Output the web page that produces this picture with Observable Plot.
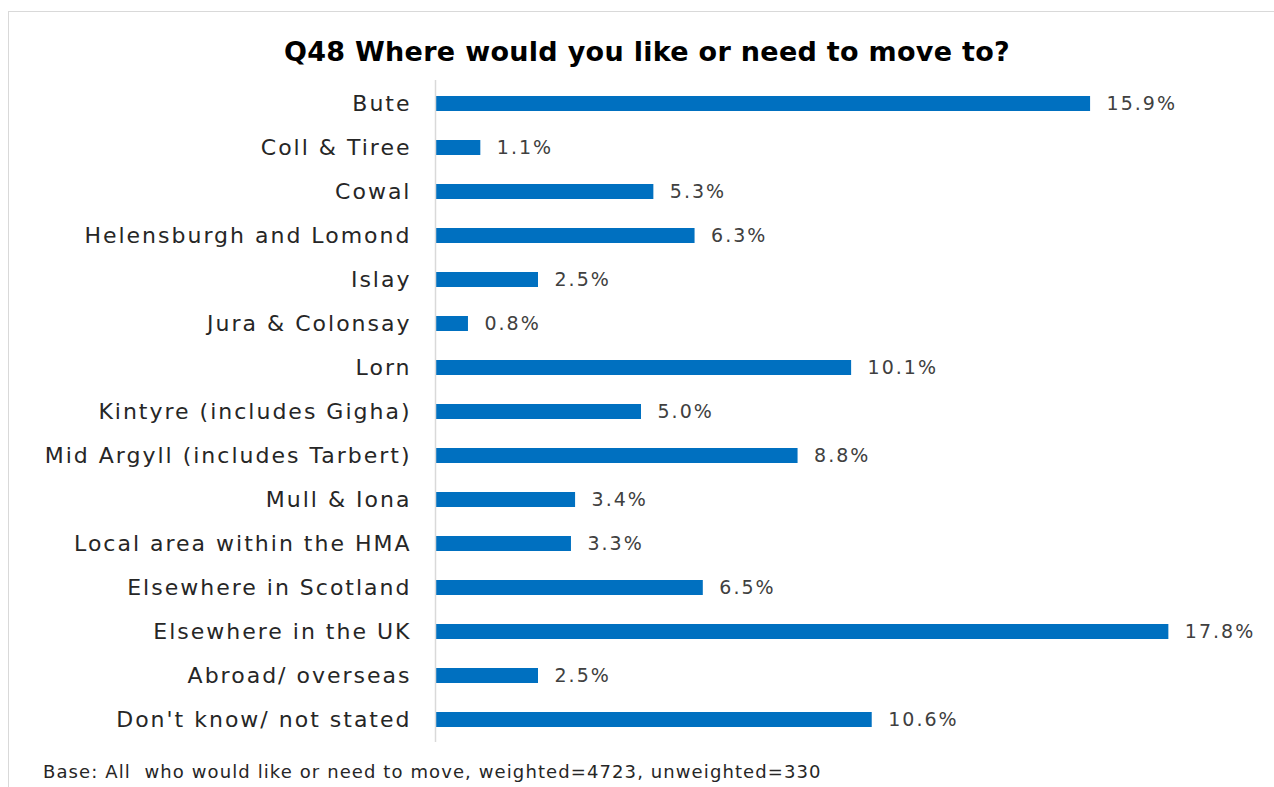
<!DOCTYPE html>
<html>
<head>
<meta charset="utf-8">
<script src="https://cdn.jsdelivr.net/npm/d3@7"></script>
<script src="https://cdn.jsdelivr.net/npm/@observablehq/plot@0.6"></script>
<style>
  html, body { margin: 0; padding: 0; background: #fff; }
  #wrap { position: relative; width: 1274px; height: 787px; overflow: hidden; }
  #frame { position: absolute; left: 8px; top: 11px; width: 1300px; height: 800px; border: 1px solid #d9d9d9; box-sizing: border-box; }
  #title { position: absolute; left: 0; top: 36px; width: 1294px; text-align: center; font-family: "DejaVu Sans", sans-serif; font-weight: bold; font-size: 27px; letter-spacing: 0.3px; color: #000; }
  #chart { position: absolute; left: 0; top: 0; }
  #caption { position: absolute; left: 43px; top: 761px; font-family: "DejaVu Sans", sans-serif; font-size: 18px; letter-spacing: 1.1px; color: #262626; white-space: pre; }
  #chart svg g[aria-label="y-axis tick label"] text { letter-spacing: 2px; }
  #chart svg g[aria-label="text"] text { letter-spacing: 2px; }
</style>
</head>
<body>
<div id="wrap">
  <div id="frame"></div>
  <div id="chart"></div>
  <div id="title">Q48 Where would you like or need to move to?</div>
  <div id="caption">Base: All  who would like or need to move, weighted=4723, unweighted=330</div>
</div>
<script>
const categories = [
  "Bute",
  "Coll & Tiree",
  "Cowal",
  "Helensburgh and Lomond",
  "Islay",
  "Jura & Colonsay",
  "Lorn",
  "Kintyre (includes Gigha)",
  "Mid Argyll (includes Tarbert)",
  "Mull & Iona",
  "Local area within the HMA",
  "Elsewhere in Scotland",
  "Elsewhere in the UK",
  "Abroad/ overseas",
  "Don't know/ not stated"
];
const values = [15.9, 1.1, 5.3, 6.3, 2.5, 0.8, 10.1, 5.0, 8.8, 3.4, 3.3, 6.5, 17.8, 2.5, 10.6];

const data = categories.map((c, i) => ({category: c, value: values[i]}));

const chart = Plot.plot({
  width: 1274,
  height: 787,
  marginTop: 80,
  marginBottom: 45,
  marginLeft: 435,
  marginRight: 15,
  style: {fontFamily: "DejaVu Sans, sans-serif", fontSize: "22px", color: "#262626", background: "transparent"},
  x: {domain: [0, 20], axis: null},
  y: {domain: categories, paddingInner: 0.66, paddingOuter: 0.33, label: null},
  marks: [
    Plot.axisY({tickSize: 0, tickPadding: 24, fontSize: 22, fill: "#262626", label: null}),
    Plot.barX(data, {y: "category", x: "value", fill: "#0070C0"}),
    Plot.ruleX([0], {stroke: "#d9d9d9", strokeWidth: 1.5}),
    Plot.text(data, {y: "category", x: "value", text: d => d.value.toFixed(1) + "%", textAnchor: "start", dx: 16, fontSize: 19, fill: "#404040"})
  ]
});
document.getElementById("chart").appendChild(chart);
</script>
</body>
</html>
